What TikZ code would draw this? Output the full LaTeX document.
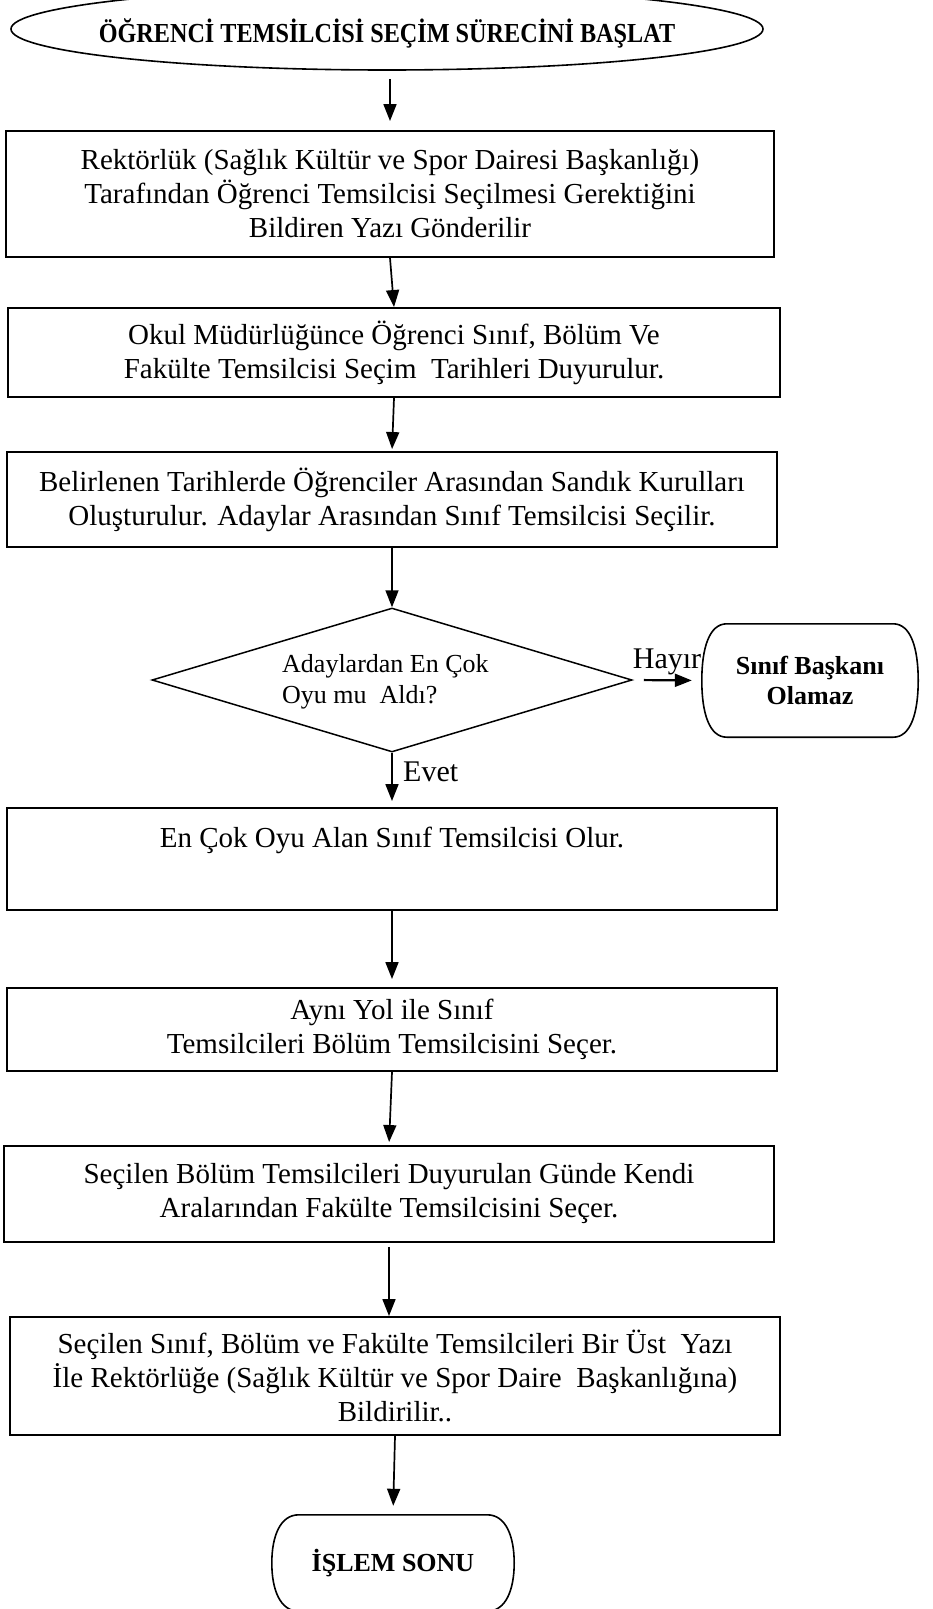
\documentclass[tikz,border=0pt]{standalone}
\usepackage{fontspec}
\setmainfont{Liberation Serif}
\newfontfamily\titlefont{Liberation Serif}[FakeStretch=0.88]
\usetikzlibrary{arrows.meta,shapes.geometric,calc}

% Outline of a terminal node: flat top and bottom, bulging rounded sides.
% #1 = node name, #2 = inset of the flat edges, #3 = vertical reach of the corner curve
\newcommand\terminaloutline[3]{%
  \draw[termline]
    ($(#1.north west)+(#2,0)$) -- ($(#1.north east)+(-#2,0)$)
    .. controls ($(#1.north east)+(-0.3*#2,0)$) and ($(#1.north east)+(0,#3)$) .. (#1.east)
    .. controls ($(#1.south east)+(0,-#3)$) and ($(#1.south east)+(-0.3*#2,0)$) .. ($(#1.south east)+(-#2,0)$)
    -- ($(#1.south west)+(#2,0)$)
    .. controls ($(#1.south west)+(0.3*#2,0)$) and ($(#1.south west)+(0,-#3)$) .. (#1.west)
    .. controls ($(#1.north west)+(0,#3)$) and ($(#1.north west)+(0.3*#2,0)$) .. cycle;}

\begin{document}
\begin{tikzpicture}[x=1pt,y=-1pt,
  box/.style={draw, rectangle, line width=1.9pt, inner sep=0pt, align=center,
    font=\fontsize{29}{34}\selectfont},
  termline/.style={line width=1.6pt},
  flow/.style={line width=1.7pt, -{Triangle[length=17pt,width=13pt]}},
  label/.style={inner sep=0pt, font=\fontsize{30}{30}\selectfont}]

\useasboundingbox (0,0) rectangle (933,1609);

% start terminal: title with an elliptic outline
\node[inner sep=0pt, minimum width=752pt, minimum height=82pt,
  font=\titlefont\bfseries\fontsize{27.5}{30}\selectfont] (start) at (387,33)
  {ÖĞRENCİ TEMSİLCİSİ SEÇİM SÜRECİNİ BAŞLAT};
\draw[termline] (start.center) ++(0,-4) ellipse [x radius=376pt, y radius=41pt];

% process steps
\node[box, minimum width=768pt, minimum height=126pt] (b1) at (390,194)
  {Rektörlük (Sağlık Kültür ve Spor Dairesi Başkanlığı)\\
   Tarafından Öğrenci Temsilcisi Seçilmesi Gerektiğini\\
   Bildiren Yazı Gönderilir};
\node[box, minimum width=772pt, minimum height=89pt] (b2) at (394,352.5)
  {Okul Müdürlüğünce Öğrenci Sınıf, Bölüm Ve\\
   Fakülte Temsilcisi Seçim\ \ Tarihleri Duyurulur.};
\node[box, minimum width=770pt, minimum height=95pt] (b3) at (392,499.5)
  {Belirlenen Tarihlerde Öğrenciler Arasından Sandık Kurulları\\
   Oluşturulur. Adaylar Arasından Sınıf Temsilcisi Seçilir.};

% decision
\node[draw, diamond, line width=1.5pt, minimum width=480pt, minimum height=144pt, inner sep=0pt]
  (dia) at (392,680) {};
\node[anchor=west, align=left, inner sep=0pt, font=\fontsize{26}{31}\selectfont] (q) at (282,682)
  {Adaylardan En Çok\\Oyu mu\ \ Aldı?};

\node[inner sep=0pt, align=center, minimum width=216pt, minimum height=113pt,
  font=\bfseries\fontsize{26}{30}\selectfont] (sb) at (810,680.5) {Sınıf Başkanı\\Olamaz};
\terminaloutline{sb}{25}{24}

\node[label] (no) at (667,662) {Hayır};
\node[label, anchor=west] (yes) at (403,772) {Evet};

\node[box, minimum width=770pt, minimum height=102pt] (b4) at (392,859)
  {En Çok Oyu Alan Sınıf Temsilcisi Olur.\\\strut};
\node[box, minimum width=770pt, minimum height=83pt] (b5) at (392,1029.5)
  {Aynı Yol ile Sınıf\\
   Temsilcileri Bölüm Temsilcisini Seçer.};
\node[box, minimum width=770pt, minimum height=96pt] (b6) at (389,1194)
  {Seçilen Bölüm Temsilcileri Duyurulan Günde Kendi\\
   Aralarından Fakülte Temsilcisini Seçer.};
\node[box, minimum width=770pt, minimum height=118pt] (b7) at (395,1376)
  {Seçilen Sınıf, Bölüm ve Fakülte Temsilcileri Bir Üst\ \ Yazı\\
   İle Rektörlüğe (Sağlık Kültür ve Spor Daire\ \ Başkanlığına)\\
   Bildirilir..};

% end terminal
\node[inner sep=0pt, minimum width=242pt, minimum height=96pt,
  font=\bfseries\fontsize{26}{30}\selectfont] (end) at (393,1563) {İŞLEM SONU};
\terminaloutline{end}{27}{22}

% connectors
\draw[flow, shorten <=5pt, shorten >=9pt] (start.south -| b1.north) -- (b1.north);
\draw[flow] (b1.south) -- (b2.north);
\draw[flow, shorten >=2pt] (b2.south) -- (b3.north);
\draw[flow] (b3.south) -- (dia.north);
\draw[flow, line width=2.2pt, shorten <=11pt, shorten >=10pt] (dia.east) -- (sb.west);
\draw[flow, shorten >=6pt] (dia.south) -- (b4.north);
\draw[flow, shorten >=8pt] (b4.south) -- (b5.north);
\draw[flow, shorten >=3pt] (b5.south) -- (b6.north);
\draw[flow, shorten <=4pt] (b6.south) -- (b6.south |- b7.north);
\draw[flow, shorten >=9pt] (b7.south) -- (end.north);
\end{tikzpicture}
\end{document}
